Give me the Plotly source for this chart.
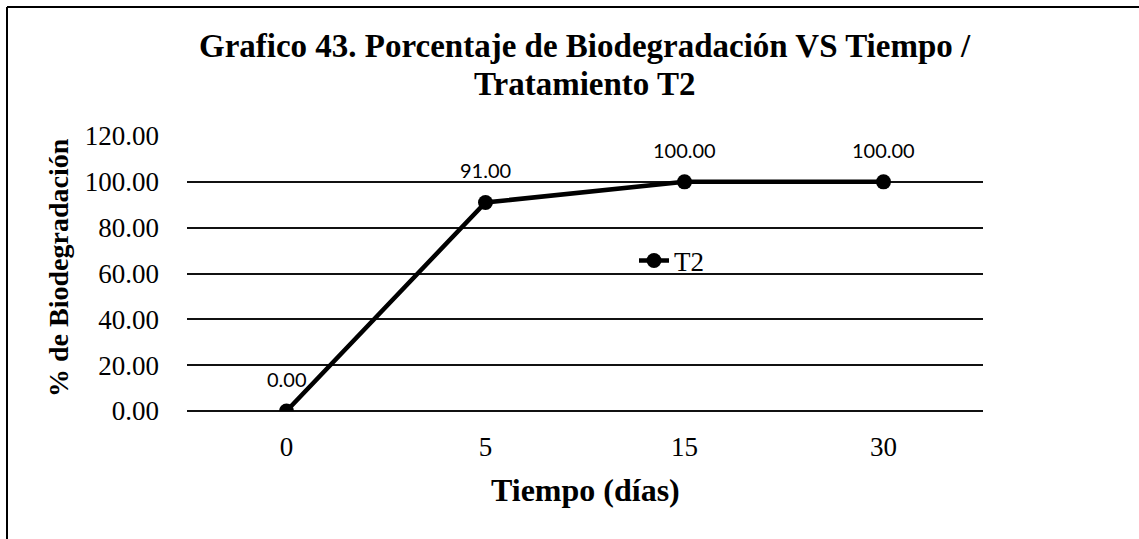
import plotly.graph_objects as go

# Biodegradation percentage over time, treatment T2
dias = ["0", "5", "15", "30"]
biodegradacion = [0.00, 91.00, 100.00, 100.00]
serie = "T2"
y_ticks = [0, 20, 40, 60, 80, 100, 120]

W, H = 1139, 539
L, R, T, B = 187, 156, 136, 128
PW, PH = W - L - R, H - T - B

serif = "Liberation Serif, Times New Roman, serif"
sans = "Lato, Open Sans, sans-serif"


def px_x(px):
    """Pixel column -> paper x."""
    return (px - L) / PW


def px_y(py):
    """Pixel row -> paper y."""
    return (H - B - py) / PH


fig = go.Figure()
fig.add_trace(go.Scatter(
    x=dias, y=biodegradacion, name=serie,
    mode="lines+markers",
    line=dict(color="black", width=4.5),
    marker=dict(color="black", size=15),
))

# value labels above each point (category axis -> positional index)
labels = [
    dict(x=i, y=v, xref="x", yref="y", text=f"{v:.2f}", showarrow=False,
         yshift=32, xanchor="center", yanchor="middle",
         font=dict(family=sans, size=20, color="black"))
    for i, v in enumerate(biodegradacion)
]

fig.update_layout(
    width=W, height=H,
    margin=dict(l=L, r=R, t=T, b=B),
    paper_bgcolor="white", plot_bgcolor="white",
    showlegend=True,
    legend=dict(x=px_x(634), y=px_y(261), xanchor="left", yanchor="middle",
                bgcolor="rgba(0,0,0,0)",
                font=dict(family=serif, size=27, color="black")),
    xaxis=dict(type="category", range=[-0.5, 3.5], showgrid=False,
               showline=False, zeroline=False, ticks="",
               ticklabelstandoff=17,
               tickfont=dict(family=serif, size=27, color="black")),
    yaxis=dict(range=[0, 120], tickvals=y_ticks,
               ticktext=[f"{v:.2f}" for v in y_ticks],
               showgrid=True, gridcolor="#111111", gridwidth=1.8,
               zeroline=True, zerolinecolor="#111111", zerolinewidth=1.8,
               showline=False, ticks="", ticklabelstandoff=27,
               tickfont=dict(family=serif, size=27, color="black")),
    annotations=labels + [
        dict(text="<b>Grafico 43. Porcentaje de Biodegradación VS Tiempo /</b>",
             xref="paper", yref="paper", x=px_x(585), y=px_y(46),
             xanchor="center", yanchor="middle", showarrow=False,
             font=dict(family=serif, size=33, color="black")),
        dict(text="<b>Tratamiento T2</b>",
             xref="paper", yref="paper", x=px_x(585), y=px_y(84),
             xanchor="center", yanchor="middle", showarrow=False,
             font=dict(family=serif, size=33, color="black")),
        dict(text="<b>Tiempo (días)</b>", xref="paper", yref="paper",
             x=px_x(585), y=px_y(490), xanchor="center", yanchor="middle",
             showarrow=False, font=dict(family=serif, size=32, color="black")),
        dict(text="<b>% de Biodegradación</b>", xref="paper", yref="paper",
             x=px_x(58), y=px_y(268), xanchor="center", yanchor="middle",
             textangle=-90, showarrow=False,
             font=dict(family=serif, size=28, color="black")),
    ],
    shapes=[
        dict(type="line", xref="paper", yref="paper",
             x0=px_x(7), x1=px_x(7), y0=px_y(H), y1=px_y(7),
             line=dict(color="black", width=2)),
        dict(type="line", xref="paper", yref="paper",
             x0=px_x(7), x1=px_x(W), y0=px_y(7), y1=px_y(7),
             line=dict(color="black", width=2)),
    ],
)

fig.write_html("out.html")
